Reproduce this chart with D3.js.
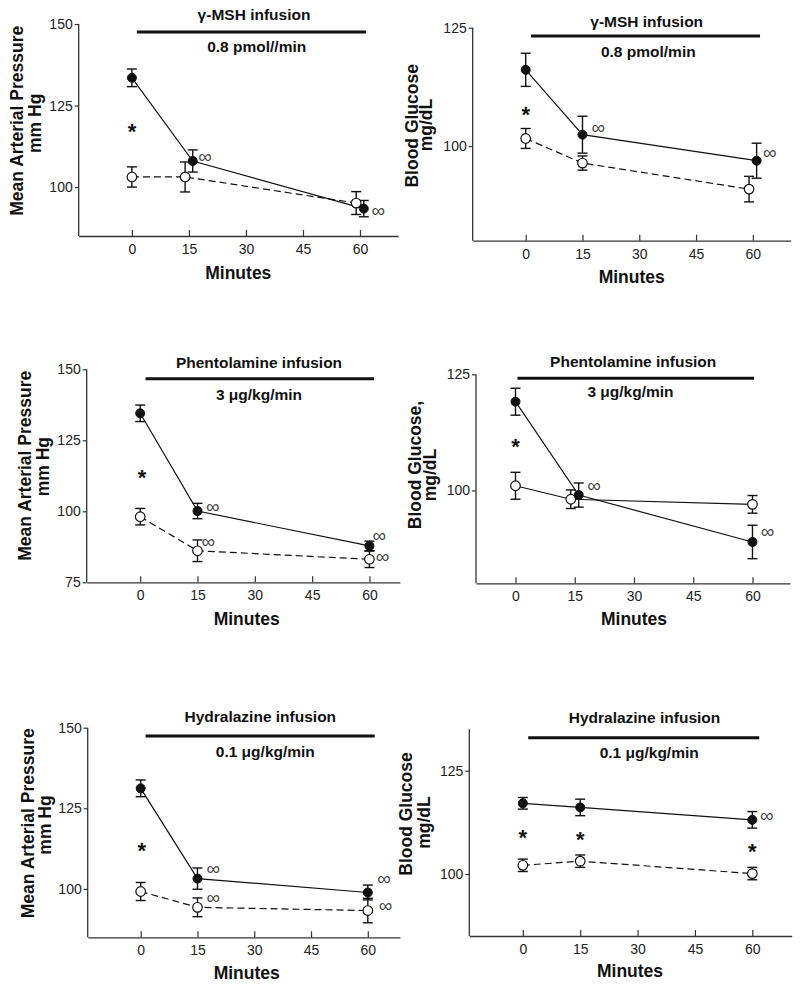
<!DOCTYPE html>
<html>
<head>
<meta charset="utf-8">
<script src="https://cdn.jsdelivr.net/npm/d3@7"></script>
<style>
  html, body { margin: 0; padding: 0; background: #fff; }
  svg { display: block; font-family: "Liberation Sans", Arial, sans-serif; }
</style>
</head>
<body>
<svg id="chart" width="800" height="987"></svg>
<script>
// ---------- DATA ----------
const xTicks = [0, 15, 30, 45, 60];

// Panel 1: MAP, gamma-MSH
const p1FilledX = [0, 16, 61], p1FilledMean = [133.5, 108.0, 93.4], p1FilledSem = [2.7, 3.4, 2.5];
const p1OpenX   = [0, 14, 59], p1OpenMean   = [103.1, 103.1, 95.1], p1OpenSem   = [3.1, 4.6, 3.5];
const p1Stars = [[0, 118.5]];
const p1Inf   = [[19.2, 109.0], [64.8, 92.7]];

// Panel 2: Blood glucose, gamma-MSH
const p2FilledX = [0, 15, 61], p2FilledMean = [116.1, 102.4, 96.9], p2FilledSem = [3.5, 3.9, 3.7];
const p2OpenX   = [0, 15, 59], p2OpenMean   = [101.6, 96.4, 90.9], p2OpenSem   = [2.1, 1.5, 2.7];
const p2Stars = [[0, 107.8]];
const p2Inf   = [[19.2, 103.7], [64.5, 98.5]];

// Panel 3: MAP, phentolamine
const p3FilledX = [0, 15, 60], p3FilledMean = [134.5, 100.1, 87.8], p3FilledSem = [2.9, 2.7, 1.7];
const p3OpenX   = [0, 15, 60], p3OpenMean   = [98.1, 86.1, 83.1], p3OpenSem   = [2.9, 3.8, 2.9];
const p3Stars = [[0.5, 113.6]];
const p3Inf   = [[19.0, 101.3], [17.8, 89.2], [62.6, 91.3], [63.4, 83.8]];

// Panel 4: Blood glucose, phentolamine
const p4FilledX = [0, 16, 60], p4FilledMean = [119.1, 99.0, 88.9], p4FilledSem = [2.9, 2.6, 3.6];
const p4OpenX   = [0, 14, 60], p4OpenMean   = [101.0, 98.1, 97.0], p4OpenSem   = [2.9, 2.0, 1.9];
const p4Stars = [[0, 110.6]];
const p4Inf   = [[19.9, 100.9], [63.8, 90.9]];

// Panel 5: MAP, hydralazine
const p5FilledX = [0, 15, 60], p5FilledMean = [131.2, 103.2, 98.9], p5FilledSem = [2.6, 3.3, 2.3];
const p5OpenX   = [0, 15, 60], p5OpenMean   = [99.2, 94.3, 93.3], p5OpenSem   = [2.8, 2.9, 3.8];
const p5Stars = [[0.3, 113.4]];
const p5Inf   = [[19.2, 106.1], [19.2, 97.0], [64.3, 102.9], [64.7, 94.7]];

// Panel 6: Blood glucose, hydralazine
const p6FilledX = [0, 15, 60], p6FilledMean = [117.1, 116.1, 113.1], p6FilledSem = [1.4, 2.0, 2.0];
const p6OpenX   = [0, 15, 60], p6OpenMean   = [102.1, 103.1, 100.1], p6OpenSem   = [1.5, 1.5, 1.5];
const p6Stars = [[0, 110.0], [15, 109.6], [60, 106.8]];
const p6Inf   = [[63.8, 113.9]];

const titles = ["\u03b3-MSH infusion", "\u03b3-MSH infusion", "Phentolamine infusion", "Phentolamine infusion", "Hydralazine infusion", "Hydralazine infusion"];
const doses  = ["0.8 pmol//min", "0.8 pmol/min", "3 \u03bcg/kg/min", "3 \u03bcg/kg/min", "0.1 \u03bcg/kg/min", "0.1 \u03bcg/kg/min"];
const yLabels = [
  ["Mean Arterial Pressure", "mm Hg"], ["Blood Glucose", "mg/dL"],
  ["Mean Arterial Pressure", "mm Hg"], ["Blood Glucose,", "mg/dL"],
  ["Mean Arterial Pressure", "mm Hg"], ["Blood Glucose", "mg/dL"]
];
const xLabel = "Minutes";
const yTicksList = [[100, 125, 150], [100, 125], [75, 100, 125, 150], [100, 125], [100, 125, 150], [100, 125]];
const yDomains = [[85, 150], [80, 125], [75, 150], [80, 125], [85, 150], [85, 135]];
const infusionSpans = [[1.3, 61.6], [1.4, 61.9], [1.4, 61.2], [0.5, 60.4], [1.3, 61.8], [1.4, 61.8]];

const panelsData = [
  {fx: p1FilledX, fm: p1FilledMean, fs: p1FilledSem, ox: p1OpenX, om: p1OpenMean, os: p1OpenSem, stars: p1Stars, inf: p1Inf, openDashed: true},
  {fx: p2FilledX, fm: p2FilledMean, fs: p2FilledSem, ox: p2OpenX, om: p2OpenMean, os: p2OpenSem, stars: p2Stars, inf: p2Inf, openDashed: true},
  {fx: p3FilledX, fm: p3FilledMean, fs: p3FilledSem, ox: p3OpenX, om: p3OpenMean, os: p3OpenSem, stars: p3Stars, inf: p3Inf, openDashed: true},
  {fx: p4FilledX, fm: p4FilledMean, fs: p4FilledSem, ox: p4OpenX, om: p4OpenMean, os: p4OpenSem, stars: p4Stars, inf: p4Inf, openDashed: false},
  {fx: p5FilledX, fm: p5FilledMean, fs: p5FilledSem, ox: p5OpenX, om: p5OpenMean, os: p5OpenSem, stars: p5Stars, inf: p5Inf, openDashed: true},
  {fx: p6FilledX, fm: p6FilledMean, fs: p6FilledSem, ox: p6OpenX, om: p6OpenMean, os: p6OpenSem, stars: p6Stars, inf: p6Inf, openDashed: true}
];

// ---------- LAYOUT ----------
const layouts = [
  {L: 78.7, R: 398, T: 24, B: 236, xd: [-14, 70], tcx: 254, tby: 19.5, scx: 256.7, sby: 52, bary: 32,
   yl: [[23, 120.8], [40.5, 123.3]], mcx: 238.3, mby: 279.3},
  {L: 472.7, R: 790.7, T: 27.7, B: 240.7, xd: [-14, 70], tcx: 646.7, tby: 26.7, scx: 648.3, sby: 56.7, bary: 36,
   yl: [[418.3, 125.8], [432, 125]], mcx: 631.7, mby: 283.3},
  {L: 86.7, R: 400, T: 369.3, B: 582.3, xd: [-14, 68], tcx: 259, tby: 368.3, scx: 259, sby: 400, bary: 378.7,
   yl: [[30.5, 465.8], [49, 466.7]], mcx: 246.7, mby: 625},
  {L: 476, R: 790, T: 374.3, B: 583.3, xd: [-10, 69.5], tcx: 633.2, tby: 367.3, scx: 630.5, sby: 396.7, bary: 378.3,
   yl: [[420.7, 465], [436, 475]], mcx: 634, mby: 625},
  {L: 87.7, R: 400, T: 727.7, B: 937.3, xd: [-14, 68.5], tcx: 260.3, tby: 721.7, scx: 265.3, sby: 756.7, bary: 736,
   yl: [[34, 823.3], [50.5, 825]], mcx: 246.7, mby: 979.3},
  {L: 469.3, R: 791.7, T: 729.3, B: 936, xd: [-14, 70.3], tcx: 644.5, tby: 723.3, scx: 649.2, sby: 758.3, bary: 737.7,
   yl: [[412, 814], [430, 822.5]], mcx: 630, mby: 976.7}
];

const svg = d3.select("#chart");
const ink = "#111";

layouts.forEach((lay, i) => {
  const d = panelsData[i];
  const g = svg.append("g");
  const x = d3.scaleLinear().domain(lay.xd).range([lay.L, lay.R]);
  const y = d3.scaleLinear().domain(yDomains[i]).range([lay.B, lay.T]);

  // axes
  const yAxis = d3.axisLeft(y).tickValues(yTicksList[i]).tickSizeInner(4).tickSizeOuter(0).tickPadding(2).tickFormat(d3.format("d"));
  const xAxis = d3.axisBottom(x).tickValues(xTicks).tickSizeInner(-6).tickSizeOuter(0).tickPadding(8).tickFormat(d3.format("d"));
  const ya = g.append("g").attr("transform", `translate(${lay.L},0)`).call(yAxis);
  const xa = g.append("g").attr("transform", `translate(0,${lay.B})`).call(xAxis);
  [ya, xa].forEach(a => {
    a.select(".domain").attr("stroke", "#333").attr("stroke-width", 1.3);
    a.selectAll(".tick line").attr("stroke", "#333").attr("stroke-width", 1.2);
    a.selectAll(".tick text").attr("fill", "#222").attr("font-size", 14).attr("font-family", "Liberation Sans, Arial, sans-serif");
  });
  ya.select(".domain").attr("d", `M0,${lay.T}V${lay.B}`);

  // series lines
  const line = d3.line().x(p => x(p[0])).y(p => y(p[1]));
  const openPts = d.ox.map((v, k) => [v, d.om[k], d.os[k]]);
  const filledPts = d.fx.map((v, k) => [v, d.fm[k], d.fs[k]]);
  g.append("path").attr("d", line(openPts)).attr("fill", "none").attr("stroke", ink).attr("stroke-width", 1.2)
    .attr("stroke-dasharray", d.openDashed ? "7,4" : null);
  g.append("path").attr("d", line(filledPts)).attr("fill", "none").attr("stroke", ink).attr("stroke-width", 1.2);

  // error bars
  const cap = 5;
  [openPts, filledPts].forEach(pts => {
    const eb = g.append("g").attr("stroke", ink).attr("stroke-width", 1.4).attr("fill", "none");
    pts.forEach(p => {
      const cx = x(p[0]), hi = y(p[1] + p[2]), lo = y(p[1] - p[2]);
      eb.append("line").attr("x1", cx).attr("x2", cx).attr("y1", hi).attr("y2", lo);
      eb.append("line").attr("x1", cx - cap).attr("x2", cx + cap).attr("y1", hi).attr("y2", hi);
      eb.append("line").attr("x1", cx - cap).attr("x2", cx + cap).attr("y1", lo).attr("y2", lo);
    });
  });

  // markers
  g.selectAll(".open").data(openPts).join("circle").attr("class", "open")
    .attr("cx", p => x(p[0])).attr("cy", p => y(p[1])).attr("r", 4.8)
    .attr("fill", "#fff").attr("stroke", ink).attr("stroke-width", 1.2);
  g.selectAll(".filled").data(filledPts).join("circle").attr("class", "filled")
    .attr("cx", p => x(p[0])).attr("cy", p => y(p[1])).attr("r", 4.5)
    .attr("fill", ink).attr("stroke", ink).attr("stroke-width", 1);

  // stars
  const starFs = 22;
  g.selectAll(".star").data(d.stars).join("text").attr("class", "star")
    .attr("x", p => x(p[0])).attr("y", p => y(p[1]) + starFs * 0.58)
    .attr("text-anchor", "middle").attr("font-size", starFs).attr("font-weight", "bold").attr("fill", ink)
    .text("*");

  // infinity-like markers
  const infFs = 19;
  g.selectAll(".inf").data(d.inf).join("text").attr("class", "inf")
    .attr("x", p => x(p[0])).attr("y", p => y(p[1]) + infFs * 0.3)
    .attr("text-anchor", "middle").attr("font-size", infFs).attr("fill", "#444")
    .attr("font-family", "DejaVu Sans, sans-serif").attr("font-weight", 200)
    .text("\u221e");

  // infusion bar + titles
  const span = infusionSpans[i];
  g.append("line").attr("x1", x(span[0])).attr("x2", x(span[1])).attr("y1", lay.bary).attr("y2", lay.bary)
    .attr("stroke", ink).attr("stroke-width", 3);
  g.append("text").attr("x", lay.tcx).attr("y", lay.tby).attr("text-anchor", "middle")
    .attr("font-size", 15.5).attr("font-weight", "bold").attr("fill", ink).text(titles[i]);
  g.append("text").attr("x", lay.scx).attr("y", lay.sby).attr("text-anchor", "middle")
    .attr("font-size", 15.5).attr("font-weight", "bold").attr("fill", ink).text(doses[i]);

  // y labels
  yLabels[i].forEach((t, k) => {
    g.append("text").attr("transform", `translate(${lay.yl[k][0]},${lay.yl[k][1]}) rotate(-90)`)
      .attr("text-anchor", "middle").attr("font-size", 17.5).attr("font-weight", "bold").attr("fill", ink).text(t);
  });

  // x label
  g.append("text").attr("x", lay.mcx).attr("y", lay.mby).attr("text-anchor", "middle")
    .attr("font-size", 17.5).attr("font-weight", "bold").attr("fill", ink).text(xLabel);
});
</script>
</body>
</html>
